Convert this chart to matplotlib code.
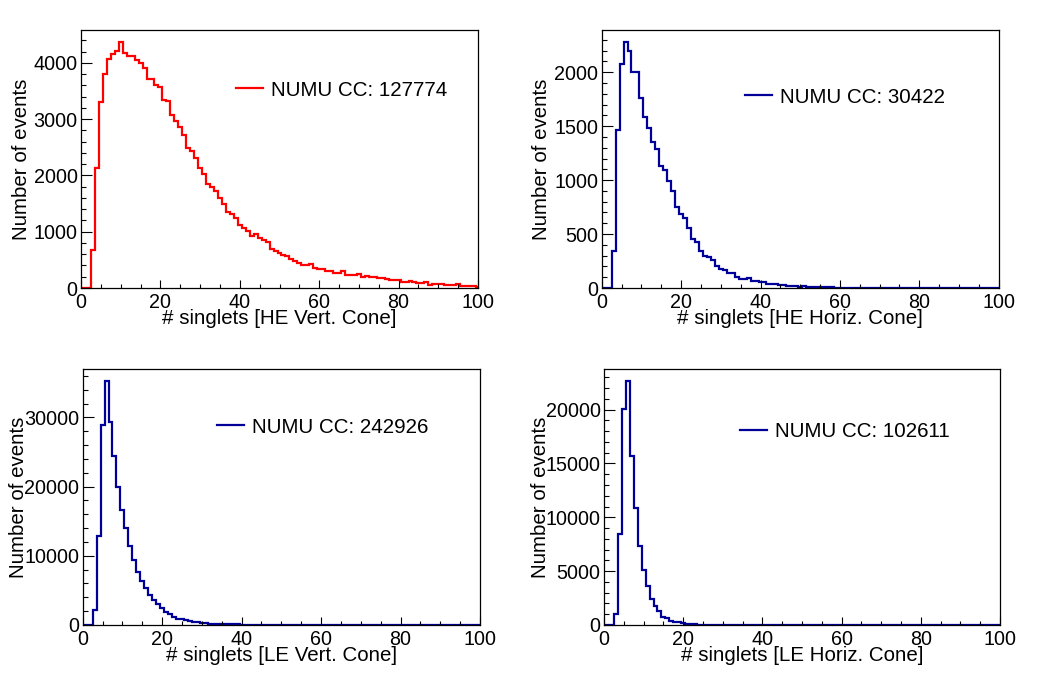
import numpy as np
import matplotlib
matplotlib.use("Agg")
import matplotlib.pyplot as plt
from matplotlib.ticker import MultipleLocator, FuncFormatter

plt.rcParams['font.family'] = ['Liberation Sans', 'DejaVu Sans']
FS = 14.8
TFS = 14.2

# ---- data: counts per integer # singlets (bin centred on 0..100) ----
he_vert = [0, 0, 0, 669, 2130, 3302, 3811, 4071, 4160, 4207,
           4367, 4183, 4118, 4118, 4059, 3994, 3917, 3722, 3722, 3609,
           3568, 3349, 3320, 3083, 2964, 2858, 2728, 2491, 2432, 2308,
           2130, 2018, 1852, 1793, 1716, 1598, 1485, 1349, 1314, 1243,
           1112, 1071, 1018, 917, 953, 882, 846, 811, 686, 657,
           621, 592, 560, 520, 480, 440, 415, 400, 426, 355,
           340, 330, 310, 300, 260, 270, 296, 230, 225, 225,
           249, 189, 207, 190, 190, 185, 172, 154, 150, 142,
           140, 101, 105, 124, 110, 89, 89, 112, 53, 71,
           71, 65, 55, 53, 53, 71, 30, 30, 30, 30,
           12]

he_horiz = [0, 0, 0, 340, 1469, 2074, 2278, 2194, 2006, 2006,
            1765, 1583, 1481, 1355, 1290, 1127, 1090, 988, 895, 750,
            688, 648, 559, 457, 426, 343, 296, 287, 256, 201,
            176, 164, 142, 136, 102, 86, 83, 93, 65, 65,
            59, 52, 40, 34, 40, 31, 28, 22, 18, 15,
            9, 15, 12, 9, 8, 6, 6, 9, 5, 4,
            3, 2, 2, 1, 1, 1, 1, 0, 1, 0] + [0] * 31

le_vert = [0, 0, 0, 2238, 12905, 28905, 35238, 29381, 24429, 20000,
           16619, 14000, 11476, 9429, 7714, 6429, 5333, 4286, 3571, 3000,
           2476, 1905, 1524, 1190, 905, 810, 700, 560, 460, 380,
           300, 250, 210, 170, 150, 130, 120, 100, 90, 80,
           70, 60, 50, 40, 35, 30, 25, 20, 18, 15,
           12, 10, 9, 8, 7, 6, 5, 5, 4, 4,
           3, 3, 3, 2, 2, 2, 2, 1, 1, 1] + [1] * 10 + [0] * 21

le_horiz = [0, 0, 0, 1012, 8466, 20031, 22638, 15736, 10828, 7301,
            5061, 3589, 2454, 1748, 1319, 767, 613, 399, 307, 245,
            153, 110, 80, 60, 45, 35, 28, 22, 18, 14,
            11, 9, 7, 6, 5, 4, 3, 3, 2, 2] + [1] * 10 + [0] * 51

xlabels = ["# singlets [HE Vert. Cone]", "# singlets [HE Horiz. Cone]",
           "# singlets [LE Vert. Cone]", "# singlets [LE Horiz. Cone]"]
legend_labels = ["NUMU CC: 127774", "NUMU CC: 30422",
                 "NUMU CC: 242926", "NUMU CC: 102611"]
series = [he_vert, he_horiz, le_vert, le_horiz]
colors = ["#ff0000", "#000099", "#000099", "#000099"]
y_major = [1000, 500, 10000, 5000]
y_minor = [200, 100, 2000, 1000]

edges = np.arange(-0.5, 101.0, 1.0)

W, H = 1038, 673
fig = plt.figure(figsize=(W / 100, H / 100), dpi=100)

# axes rectangles in pixels: left, top, right, bottom
rects_px = [(81, 30, 478, 288), (601.7, 30, 998.7, 288),
            (82.7, 369, 480, 625), (604, 369, 1000, 625)]
leg_pos = [(0.39, 0.767), (0.361, 0.74), (0.338, 0.773), (0.343, 0.754)]
ylab_x = [-0.137, -0.137, -0.147, -0.147]

for i in range(4):
    l, t, r, b = rects_px[i]
    ax = fig.add_axes([l / W, 1 - b / H, (r - l) / W, (b - t) / H])
    vals = np.array(series[i], dtype=float)
    ax.stairs(vals, edges, color=colors[i], lw=1.6, label=legend_labels[i])
    ax.set_xlim(0, 100)
    ax.set_ylim(0, vals.max() * 1.05)

    ax.xaxis.set_major_locator(MultipleLocator(20))
    ax.xaxis.set_minor_locator(MultipleLocator(5))
    ax.yaxis.set_major_locator(MultipleLocator(y_major[i]))
    ax.yaxis.set_minor_locator(MultipleLocator(y_minor[i]))
    ax.yaxis.set_major_formatter(FuncFormatter(lambda v, p: "%d" % round(v)))
    ax.xaxis.set_major_formatter(FuncFormatter(lambda v, p: "%d" % round(v)))

    ax.tick_params(axis='both', which='both', direction='in',
                   top=False, right=False, labelsize=TFS, width=0.8,
                   colors='black')
    ax.tick_params(axis='x', which='major', length=5.8, pad=3.3)
    ax.tick_params(axis='x', which='minor', length=2.9)
    ax.tick_params(axis='y', which='major', length=7.7, pad=2.5)
    ax.tick_params(axis='y', which='minor', length=3.8)
    for s in ax.spines.values():
        s.set_linewidth(0.9)

    ax.set_xlabel(xlabels[i], fontsize=FS)
    ax.set_ylabel("Number of events", fontsize=FS)
    ax.xaxis.label.set_verticalalignment('baseline')
    ax.yaxis.label.set_verticalalignment('baseline')
    ax.xaxis.set_label_coords(0.5, -36.0 / (b - t))
    ax.yaxis.set_label_coords(ylab_x[i], 0.5)

    ax.legend(loc='center left', bbox_to_anchor=leg_pos[i], frameon=False,
              fontsize=FS, handlelength=1.3, handletextpad=0.4,
              borderpad=0, borderaxespad=0)

fig.savefig("out.png", dpi=100)
